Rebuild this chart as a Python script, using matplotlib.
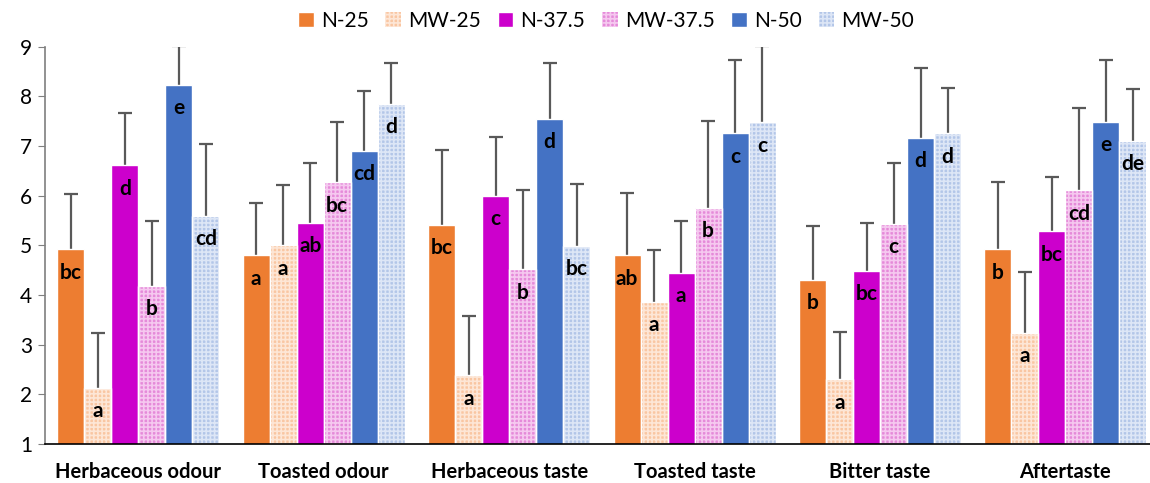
import matplotlib
matplotlib.use("Agg")
import matplotlib.pyplot as plt
import numpy as np

plt.rcParams['font.family'] = ['Lato', 'DejaVu Sans']
plt.rcParams['hatch.linewidth'] = 1.2

categories = ['Herbaceous odour', 'Toasted odour', 'Herbaceous taste',
              'Toasted taste', 'Bitter taste', 'Aftertaste']
series = ['N-25', 'MW-25', 'N-37.5', 'MW-37.5', 'N-50', 'MW-50']

# mean scores per attribute, one list per sample
n25 = [4.92, 4.80, 5.42, 4.80, 4.30, 4.92]
mw25 = [2.13, 5.00, 2.38, 3.86, 2.30, 3.24]
n375 = [6.61, 5.45, 6.00, 4.44, 4.49, 5.28]
mw375 = [4.18, 6.27, 4.52, 5.75, 5.43, 6.11]
n50 = [8.24, 6.91, 7.55, 7.26, 7.16, 7.49]
mw50 = [5.60, 7.85, 4.99, 7.48, 7.26, 7.10]

# standard deviations (upper bars only)
n25_sd = [1.12, 1.05, 1.51, 1.25, 1.09, 1.36]
mw25_sd = [1.10, 1.22, 1.20, 1.05, 0.95, 1.22]
n375_sd = [1.06, 1.21, 1.18, 1.06, 0.97, 1.10]
mw375_sd = [1.31, 1.21, 1.59, 1.76, 1.23, 1.66]
n50_sd = [0.77, 1.21, 1.12, 1.48, 1.42, 1.25]
mw50_sd = [1.45, 0.82, 1.25, 1.53, 0.92, 1.05]

# significance letters
n25_lab = ['bc', 'a', 'bc', 'ab', 'b', 'b']
mw25_lab = ['a', 'a', 'a', 'a', 'a', 'a']
n375_lab = ['d', 'ab', 'c', 'a', 'bc', 'bc']
mw375_lab = ['b', 'bc', 'b', 'b', 'c', 'cd']
n50_lab = ['e', 'cd', 'd', 'c', 'd', 'e']
mw50_lab = ['cd', 'd', 'bc', 'c', 'd', 'de']

means = [n25, mw25, n375, mw375, n50, mw50]
sds = [n25_sd, mw25_sd, n375_sd, mw375_sd, n50_sd, mw50_sd]
labels = [n25_lab, mw25_lab, n375_lab, mw375_lab, n50_lab, mw50_lab]

faces = ['#ED7D31', '#F9C6A2', '#CC00CC', '#E58AD9', '#4472C4', '#B3C6E8']
hatches = [None, '++++', None, '++++', None, '++++']
hatch_cols = [None, '#FDE6D6', None, '#F5C8EF', None, '#DDE6F6']

fig = plt.figure(figsize=(11.5, 4.83), dpi=100)
ax = fig.add_axes([0.039, 0.081, 0.961, 0.822])

x = np.arange(len(categories))
w = 0.1456
for i in range(6):
    pos = x + (i - 2.5) * w
    if hatches[i]:
        ax.bar(pos, means[i], w, facecolor=faces[i], edgecolor=hatch_cols[i],
               hatch=hatches[i], linewidth=0, label=series[i], zorder=2)
        ax.bar(pos, means[i], w, facecolor='none', edgecolor='white',
               linewidth=1, zorder=2.1)
    else:
        ax.bar(pos, means[i], w, color=faces[i], edgecolor='white',
               linewidth=1, label=series[i], zorder=2)
    eb = ax.errorbar(pos, means[i], yerr=[np.zeros(6), sds[i]], fmt='none',
                     ecolor='#595959', elinewidth=1.6, capsize=5,
                     capthick=1.6, zorder=1.5)
    eb[1][0].set_visible(False)  # no cap at the bar top
    for p, m, t in zip(pos, means[i], labels[i]):
        ax.text(p, m - 0.47, t, ha='center', va='center', fontsize=15,
                fontweight='bold', color='black', zorder=3)

ax.set_ylim(1, 9)
ax.set_xlim(-0.504, 5.456)
ax.set_yticks(range(1, 10))
ax.set_xticks(x)
ax.set_xticklabels(categories, fontsize=14.5, fontweight='bold')
ax.tick_params(axis='x', length=0, pad=13)
ax.tick_params(axis='y', labelsize=15, length=5, color='#7f7f7f', pad=4)
for s in ['top', 'right']:
    ax.spines[s].set_visible(False)
ax.spines['left'].set_color('#7f7f7f')
ax.spines['left'].set_linewidth(1.2)
ax.spines['bottom'].set_color('black')
ax.spines['bottom'].set_linewidth(1.2)

fig.legend(loc='center', bbox_to_anchor=(0.527, 0.957), ncol=6, frameon=False,
           fontsize=15, handlelength=0.75, handleheight=0.75, handletextpad=0.35,
           columnspacing=0.8)

fig.savefig('out.png', dpi=100)
